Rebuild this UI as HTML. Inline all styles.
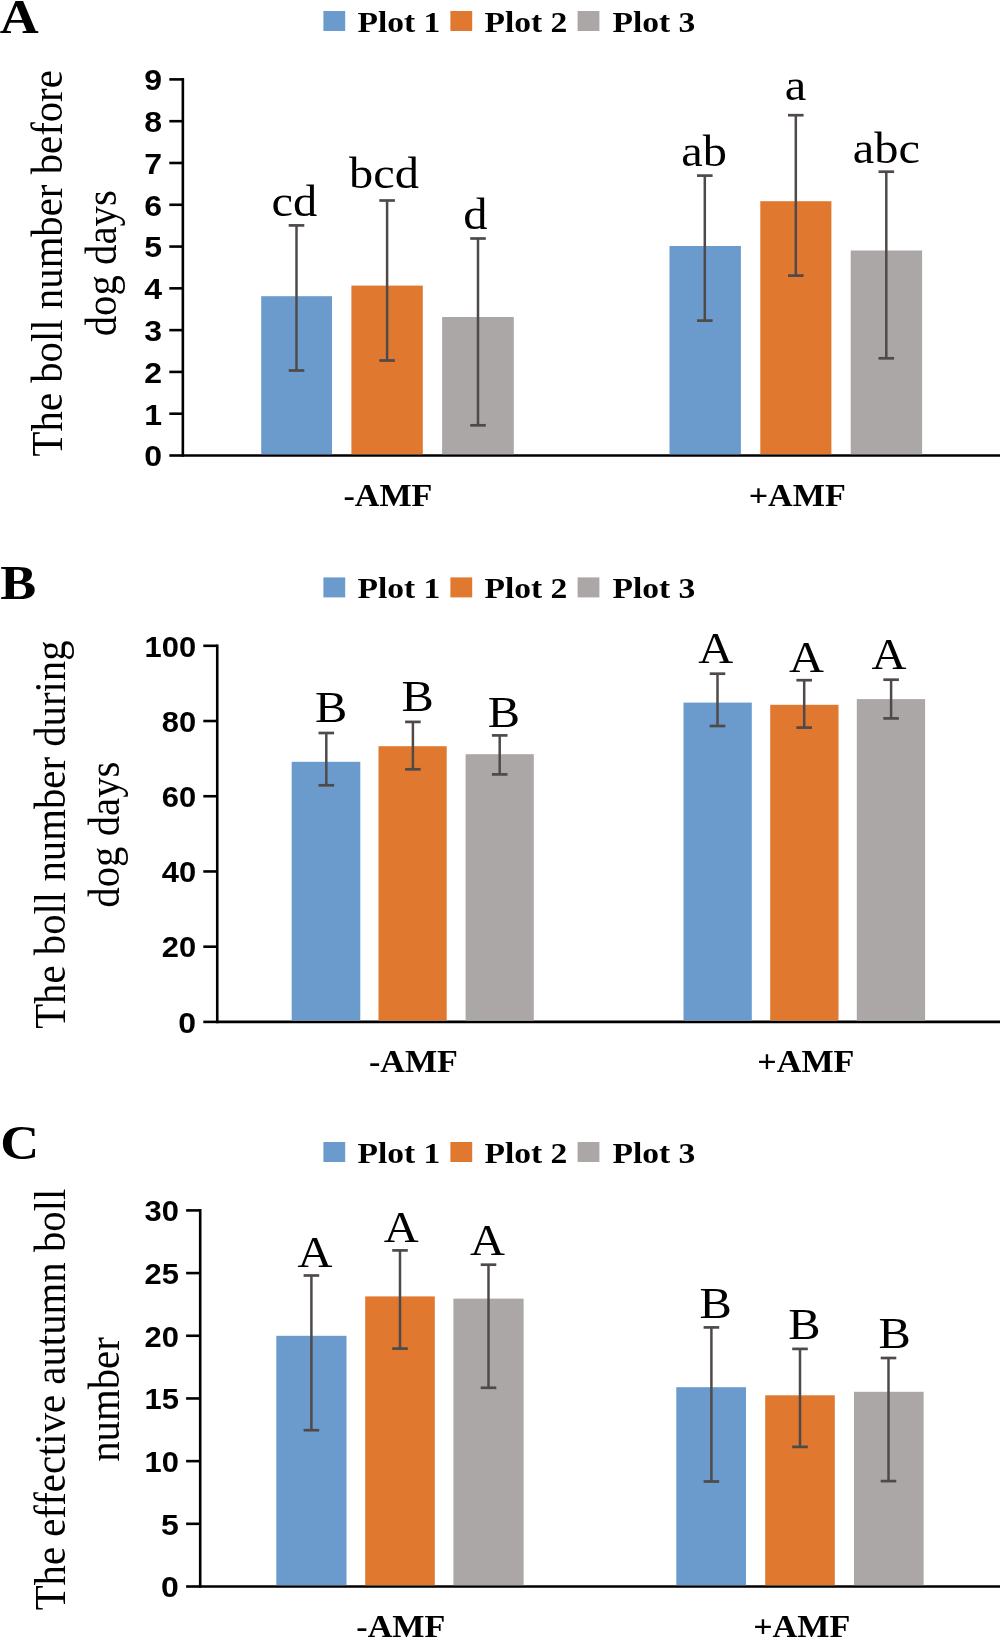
<!DOCTYPE html>
<html><head><meta charset="utf-8"><style>
html,body{margin:0;padding:0;background:#fff;width:1000px;height:1637px;overflow:hidden}
svg{display:block;will-change:transform}
</style></head><body>
<svg width="1000" height="1637" viewBox="0 0 1000 1637">
<rect width="1000" height="1637" fill="#fff"/>
<text transform="translate(-0.30,32.50) scale(1.1,1)" font-family="'Liberation Serif', serif" font-size="49" font-weight="bold" text-anchor="start" fill="#000">A</text>
<rect x="323.40" y="11.00" width="21.80" height="20.00" fill="#6b9bcc"/>
<text transform="translate(357.50,31.80) scale(1.1,1)" font-family="'Liberation Serif', serif" font-size="30.5" font-weight="bold" text-anchor="start" fill="#000">Plot 1</text>
<rect x="450.40" y="11.00" width="21.80" height="20.00" fill="#e07830"/>
<text transform="translate(484.50,31.80) scale(1.1,1)" font-family="'Liberation Serif', serif" font-size="30.5" font-weight="bold" text-anchor="start" fill="#000">Plot 2</text>
<rect x="577.60" y="11.00" width="21.80" height="20.00" fill="#aba7a6"/>
<text transform="translate(612.50,31.80) scale(1.1,1)" font-family="'Liberation Serif', serif" font-size="30.5" font-weight="bold" text-anchor="start" fill="#000">Plot 3</text>
<line x1="169.30" y1="455.50" x2="182.85" y2="455.50" stroke="#000" stroke-width="2.6"/>
<text transform="translate(162.10,466.30) scale(1.12,1)" font-family="'Liberation Sans', sans-serif" font-size="28.6" font-weight="bold" text-anchor="end" fill="#000">0</text>
<line x1="169.30" y1="413.71" x2="182.85" y2="413.71" stroke="#000" stroke-width="2.6"/>
<text transform="translate(162.10,424.51) scale(1.12,1)" font-family="'Liberation Sans', sans-serif" font-size="28.6" font-weight="bold" text-anchor="end" fill="#000">1</text>
<line x1="169.30" y1="371.92" x2="182.85" y2="371.92" stroke="#000" stroke-width="2.6"/>
<text transform="translate(162.10,382.72) scale(1.12,1)" font-family="'Liberation Sans', sans-serif" font-size="28.6" font-weight="bold" text-anchor="end" fill="#000">2</text>
<line x1="169.30" y1="330.13" x2="182.85" y2="330.13" stroke="#000" stroke-width="2.6"/>
<text transform="translate(162.10,340.93) scale(1.12,1)" font-family="'Liberation Sans', sans-serif" font-size="28.6" font-weight="bold" text-anchor="end" fill="#000">3</text>
<line x1="169.30" y1="288.34" x2="182.85" y2="288.34" stroke="#000" stroke-width="2.6"/>
<text transform="translate(162.10,299.14) scale(1.12,1)" font-family="'Liberation Sans', sans-serif" font-size="28.6" font-weight="bold" text-anchor="end" fill="#000">4</text>
<line x1="169.30" y1="246.56" x2="182.85" y2="246.56" stroke="#000" stroke-width="2.6"/>
<text transform="translate(162.10,257.36) scale(1.12,1)" font-family="'Liberation Sans', sans-serif" font-size="28.6" font-weight="bold" text-anchor="end" fill="#000">5</text>
<line x1="169.30" y1="204.77" x2="182.85" y2="204.77" stroke="#000" stroke-width="2.6"/>
<text transform="translate(162.10,215.57) scale(1.12,1)" font-family="'Liberation Sans', sans-serif" font-size="28.6" font-weight="bold" text-anchor="end" fill="#000">6</text>
<line x1="169.30" y1="162.98" x2="182.85" y2="162.98" stroke="#000" stroke-width="2.6"/>
<text transform="translate(162.10,173.78) scale(1.12,1)" font-family="'Liberation Sans', sans-serif" font-size="28.6" font-weight="bold" text-anchor="end" fill="#000">7</text>
<line x1="169.30" y1="121.19" x2="182.85" y2="121.19" stroke="#000" stroke-width="2.6"/>
<text transform="translate(162.10,131.99) scale(1.12,1)" font-family="'Liberation Sans', sans-serif" font-size="28.6" font-weight="bold" text-anchor="end" fill="#000">8</text>
<line x1="169.30" y1="79.40" x2="182.85" y2="79.40" stroke="#000" stroke-width="2.6"/>
<text transform="translate(162.10,90.20) scale(1.12,1)" font-family="'Liberation Sans', sans-serif" font-size="28.6" font-weight="bold" text-anchor="end" fill="#000">9</text>
<line x1="182.85" y1="78.10" x2="182.85" y2="456.80" stroke="#000" stroke-width="2.6"/>
<line x1="182.85" y1="455.50" x2="1000.00" y2="455.50" stroke="#000" stroke-width="2.6"/>
<rect x="261.20" y="296.20" width="70.80" height="158.00" fill="#6b9bcc"/>
<rect x="351.40" y="285.60" width="71.40" height="168.60" fill="#e07830"/>
<rect x="442.10" y="317.00" width="71.70" height="137.20" fill="#aba7a6"/>
<rect x="669.50" y="246.00" width="71.40" height="208.20" fill="#6b9bcc"/>
<rect x="760.30" y="201.20" width="71.10" height="253.00" fill="#e07830"/>
<rect x="850.70" y="250.50" width="71.40" height="203.70" fill="#aba7a6"/>
<line x1="296.50" y1="225.40" x2="296.50" y2="370.50" stroke="#4f4a49" stroke-width="2.5"/>
<line x1="288.70" y1="225.40" x2="304.30" y2="225.40" stroke="#4f4a49" stroke-width="2.7"/>
<line x1="288.70" y1="370.50" x2="304.30" y2="370.50" stroke="#4f4a49" stroke-width="2.7"/>
<text transform="translate(294.40,215.60) scale(1.1,1)" font-family="'Liberation Serif', serif" font-size="44" text-anchor="middle" fill="#000">cd</text>
<line x1="387.10" y1="200.50" x2="387.10" y2="360.50" stroke="#4f4a49" stroke-width="2.5"/>
<line x1="379.30" y1="200.50" x2="394.90" y2="200.50" stroke="#4f4a49" stroke-width="2.7"/>
<line x1="379.30" y1="360.50" x2="394.90" y2="360.50" stroke="#4f4a49" stroke-width="2.7"/>
<text transform="translate(383.90,188.40) scale(1.1,1)" font-family="'Liberation Serif', serif" font-size="44" text-anchor="middle" fill="#000">bcd</text>
<line x1="478.00" y1="238.50" x2="478.00" y2="425.30" stroke="#4f4a49" stroke-width="2.5"/>
<line x1="470.20" y1="238.50" x2="485.80" y2="238.50" stroke="#4f4a49" stroke-width="2.7"/>
<line x1="470.20" y1="425.30" x2="485.80" y2="425.30" stroke="#4f4a49" stroke-width="2.7"/>
<text transform="translate(475.40,228.50) scale(1.1,1)" font-family="'Liberation Serif', serif" font-size="44" text-anchor="middle" fill="#000">d</text>
<line x1="704.80" y1="175.60" x2="704.80" y2="320.60" stroke="#4f4a49" stroke-width="2.5"/>
<line x1="697.00" y1="175.60" x2="712.60" y2="175.60" stroke="#4f4a49" stroke-width="2.7"/>
<line x1="697.00" y1="320.60" x2="712.60" y2="320.60" stroke="#4f4a49" stroke-width="2.7"/>
<text transform="translate(704.10,166.40) scale(1.1,1)" font-family="'Liberation Serif', serif" font-size="44" text-anchor="middle" fill="#000">ab</text>
<line x1="795.80" y1="115.20" x2="795.80" y2="275.60" stroke="#4f4a49" stroke-width="2.5"/>
<line x1="788.00" y1="115.20" x2="803.60" y2="115.20" stroke="#4f4a49" stroke-width="2.7"/>
<line x1="788.00" y1="275.60" x2="803.60" y2="275.60" stroke="#4f4a49" stroke-width="2.7"/>
<text transform="translate(795.50,100.40) scale(1.1,1)" font-family="'Liberation Serif', serif" font-size="44" text-anchor="middle" fill="#000">a</text>
<line x1="886.30" y1="171.70" x2="886.30" y2="358.30" stroke="#4f4a49" stroke-width="2.5"/>
<line x1="878.50" y1="171.70" x2="894.10" y2="171.70" stroke="#4f4a49" stroke-width="2.7"/>
<line x1="878.50" y1="358.30" x2="894.10" y2="358.30" stroke="#4f4a49" stroke-width="2.7"/>
<text transform="translate(886.30,162.70) scale(1.1,1)" font-family="'Liberation Serif', serif" font-size="44" text-anchor="middle" fill="#000">abc</text>
<text transform="translate(387.90,505.80) scale(1.1,1)" font-family="'Liberation Serif', serif" font-size="31" font-weight="bold" text-anchor="middle" fill="#000">-AMF</text>
<text transform="translate(797.20,505.80) scale(1.1,1)" font-family="'Liberation Serif', serif" font-size="31" font-weight="bold" text-anchor="middle" fill="#000">+AMF</text>
<text transform="translate(61.80,263.30) scale(1.1,1) rotate(-90)" font-family="'Liberation Serif', serif" font-size="40.8" text-anchor="middle" fill="#000">The boll number before</text>
<text transform="translate(115.90,263.30) scale(1.1,1) rotate(-90)" font-family="'Liberation Serif', serif" font-size="40.8" text-anchor="middle" fill="#000">dog days</text>
<text transform="translate(0.30,598.50) scale(1.1,1)" font-family="'Liberation Serif', serif" font-size="49" font-weight="bold" text-anchor="start" fill="#000">B</text>
<rect x="323.40" y="577.40" width="21.80" height="20.00" fill="#6b9bcc"/>
<text transform="translate(357.50,598.20) scale(1.1,1)" font-family="'Liberation Serif', serif" font-size="30.5" font-weight="bold" text-anchor="start" fill="#000">Plot 1</text>
<rect x="450.40" y="577.40" width="21.80" height="20.00" fill="#e07830"/>
<text transform="translate(484.50,598.20) scale(1.1,1)" font-family="'Liberation Serif', serif" font-size="30.5" font-weight="bold" text-anchor="start" fill="#000">Plot 2</text>
<rect x="577.60" y="577.40" width="21.80" height="20.00" fill="#aba7a6"/>
<text transform="translate(612.50,598.20) scale(1.1,1)" font-family="'Liberation Serif', serif" font-size="30.5" font-weight="bold" text-anchor="start" fill="#000">Plot 3</text>
<line x1="203.30" y1="1021.90" x2="217.25" y2="1021.90" stroke="#000" stroke-width="2.6"/>
<text transform="translate(196.10,1032.70) scale(1.12,1)" font-family="'Liberation Sans', sans-serif" font-size="28.6" font-weight="bold" text-anchor="end" fill="#000">0</text>
<line x1="203.30" y1="946.68" x2="217.25" y2="946.68" stroke="#000" stroke-width="2.6"/>
<text transform="translate(196.10,957.48) scale(1.08,1)" font-family="'Liberation Sans', sans-serif" font-size="28.6" font-weight="bold" text-anchor="end" fill="#000">20</text>
<line x1="203.30" y1="871.46" x2="217.25" y2="871.46" stroke="#000" stroke-width="2.6"/>
<text transform="translate(196.10,882.26) scale(1.08,1)" font-family="'Liberation Sans', sans-serif" font-size="28.6" font-weight="bold" text-anchor="end" fill="#000">40</text>
<line x1="203.30" y1="796.24" x2="217.25" y2="796.24" stroke="#000" stroke-width="2.6"/>
<text transform="translate(196.10,807.04) scale(1.08,1)" font-family="'Liberation Sans', sans-serif" font-size="28.6" font-weight="bold" text-anchor="end" fill="#000">60</text>
<line x1="203.30" y1="721.02" x2="217.25" y2="721.02" stroke="#000" stroke-width="2.6"/>
<text transform="translate(196.10,731.82) scale(1.08,1)" font-family="'Liberation Sans', sans-serif" font-size="28.6" font-weight="bold" text-anchor="end" fill="#000">80</text>
<line x1="203.30" y1="645.80" x2="217.25" y2="645.80" stroke="#000" stroke-width="2.6"/>
<text transform="translate(196.10,656.60) scale(1.08,1)" font-family="'Liberation Sans', sans-serif" font-size="28.6" font-weight="bold" text-anchor="end" fill="#000">100</text>
<line x1="217.25" y1="644.50" x2="217.25" y2="1023.20" stroke="#000" stroke-width="2.6"/>
<line x1="217.25" y1="1021.90" x2="1000.00" y2="1021.90" stroke="#000" stroke-width="2.6"/>
<rect x="291.70" y="761.80" width="68.60" height="258.80" fill="#6b9bcc"/>
<rect x="378.50" y="746.20" width="68.20" height="274.40" fill="#e07830"/>
<rect x="465.60" y="754.20" width="68.20" height="266.40" fill="#aba7a6"/>
<rect x="683.50" y="702.60" width="68.30" height="318.00" fill="#6b9bcc"/>
<rect x="770.20" y="704.80" width="68.30" height="315.80" fill="#e07830"/>
<rect x="856.80" y="699.10" width="68.30" height="321.50" fill="#aba7a6"/>
<line x1="326.30" y1="733.00" x2="326.30" y2="785.30" stroke="#4f4a49" stroke-width="2.5"/>
<line x1="318.50" y1="733.00" x2="334.10" y2="733.00" stroke="#4f4a49" stroke-width="2.7"/>
<line x1="318.50" y1="785.30" x2="334.10" y2="785.30" stroke="#4f4a49" stroke-width="2.7"/>
<text transform="translate(331.20,721.50) scale(1.1,1)" font-family="'Liberation Serif', serif" font-size="44" text-anchor="middle" fill="#000">B</text>
<line x1="412.90" y1="721.90" x2="412.90" y2="769.30" stroke="#4f4a49" stroke-width="2.5"/>
<line x1="405.10" y1="721.90" x2="420.70" y2="721.90" stroke="#4f4a49" stroke-width="2.7"/>
<line x1="405.10" y1="769.30" x2="420.70" y2="769.30" stroke="#4f4a49" stroke-width="2.7"/>
<text transform="translate(417.55,710.80) scale(1.1,1)" font-family="'Liberation Serif', serif" font-size="44" text-anchor="middle" fill="#000">B</text>
<line x1="499.70" y1="735.40" x2="499.70" y2="774.40" stroke="#4f4a49" stroke-width="2.5"/>
<line x1="491.90" y1="735.40" x2="507.50" y2="735.40" stroke="#4f4a49" stroke-width="2.7"/>
<line x1="491.90" y1="774.40" x2="507.50" y2="774.40" stroke="#4f4a49" stroke-width="2.7"/>
<text transform="translate(504.00,726.70) scale(1.1,1)" font-family="'Liberation Serif', serif" font-size="44" text-anchor="middle" fill="#000">B</text>
<line x1="717.50" y1="673.70" x2="717.50" y2="726.00" stroke="#4f4a49" stroke-width="2.5"/>
<line x1="709.70" y1="673.70" x2="725.30" y2="673.70" stroke="#4f4a49" stroke-width="2.7"/>
<line x1="709.70" y1="726.00" x2="725.30" y2="726.00" stroke="#4f4a49" stroke-width="2.7"/>
<text transform="translate(715.75,663.20) scale(1.1,1)" font-family="'Liberation Serif', serif" font-size="44" text-anchor="middle" fill="#000">A</text>
<line x1="804.20" y1="680.20" x2="804.20" y2="727.60" stroke="#4f4a49" stroke-width="2.5"/>
<line x1="796.40" y1="680.20" x2="812.00" y2="680.20" stroke="#4f4a49" stroke-width="2.7"/>
<line x1="796.40" y1="727.60" x2="812.00" y2="727.60" stroke="#4f4a49" stroke-width="2.7"/>
<text transform="translate(806.45,672.10) scale(1.1,1)" font-family="'Liberation Serif', serif" font-size="44" text-anchor="middle" fill="#000">A</text>
<line x1="891.10" y1="679.70" x2="891.10" y2="718.40" stroke="#4f4a49" stroke-width="2.5"/>
<line x1="883.30" y1="679.70" x2="898.90" y2="679.70" stroke="#4f4a49" stroke-width="2.7"/>
<line x1="883.30" y1="718.40" x2="898.90" y2="718.40" stroke="#4f4a49" stroke-width="2.7"/>
<text transform="translate(889.10,668.60) scale(1.1,1)" font-family="'Liberation Serif', serif" font-size="44" text-anchor="middle" fill="#000">A</text>
<text transform="translate(413.40,1072.20) scale(1.1,1)" font-family="'Liberation Serif', serif" font-size="31" font-weight="bold" text-anchor="middle" fill="#000">-AMF</text>
<text transform="translate(805.90,1072.20) scale(1.1,1)" font-family="'Liberation Serif', serif" font-size="31" font-weight="bold" text-anchor="middle" fill="#000">+AMF</text>
<text transform="translate(64.80,834.60) scale(1.1,1) rotate(-90)" font-family="'Liberation Serif', serif" font-size="40.8" text-anchor="middle" fill="#000">The boll number during</text>
<text transform="translate(118.60,834.60) scale(1.1,1) rotate(-90)" font-family="'Liberation Serif', serif" font-size="40.8" text-anchor="middle" fill="#000">dog days</text>
<text transform="translate(0.30,1159.00) scale(1.1,1)" font-family="'Liberation Serif', serif" font-size="49" font-weight="bold" text-anchor="start" fill="#000">C</text>
<rect x="323.40" y="1142.00" width="21.80" height="20.00" fill="#6b9bcc"/>
<text transform="translate(357.50,1162.80) scale(1.1,1)" font-family="'Liberation Serif', serif" font-size="30.5" font-weight="bold" text-anchor="start" fill="#000">Plot 1</text>
<rect x="450.40" y="1142.00" width="21.80" height="20.00" fill="#e07830"/>
<text transform="translate(484.50,1162.80) scale(1.1,1)" font-family="'Liberation Serif', serif" font-size="30.5" font-weight="bold" text-anchor="start" fill="#000">Plot 2</text>
<rect x="577.60" y="1142.00" width="21.80" height="20.00" fill="#aba7a6"/>
<text transform="translate(612.50,1162.80) scale(1.1,1)" font-family="'Liberation Serif', serif" font-size="30.5" font-weight="bold" text-anchor="start" fill="#000">Plot 3</text>
<line x1="186.10" y1="1586.50" x2="200.20" y2="1586.50" stroke="#000" stroke-width="2.6"/>
<text transform="translate(178.90,1597.30) scale(1.12,1)" font-family="'Liberation Sans', sans-serif" font-size="28.6" font-weight="bold" text-anchor="end" fill="#000">0</text>
<line x1="186.10" y1="1523.82" x2="200.20" y2="1523.82" stroke="#000" stroke-width="2.6"/>
<text transform="translate(178.90,1534.62) scale(1.12,1)" font-family="'Liberation Sans', sans-serif" font-size="28.6" font-weight="bold" text-anchor="end" fill="#000">5</text>
<line x1="186.10" y1="1461.13" x2="200.20" y2="1461.13" stroke="#000" stroke-width="2.6"/>
<text transform="translate(178.90,1471.93) scale(1.08,1)" font-family="'Liberation Sans', sans-serif" font-size="28.6" font-weight="bold" text-anchor="end" fill="#000">10</text>
<line x1="186.10" y1="1398.45" x2="200.20" y2="1398.45" stroke="#000" stroke-width="2.6"/>
<text transform="translate(178.90,1409.25) scale(1.08,1)" font-family="'Liberation Sans', sans-serif" font-size="28.6" font-weight="bold" text-anchor="end" fill="#000">15</text>
<line x1="186.10" y1="1335.77" x2="200.20" y2="1335.77" stroke="#000" stroke-width="2.6"/>
<text transform="translate(178.90,1346.57) scale(1.08,1)" font-family="'Liberation Sans', sans-serif" font-size="28.6" font-weight="bold" text-anchor="end" fill="#000">20</text>
<line x1="186.10" y1="1273.08" x2="200.20" y2="1273.08" stroke="#000" stroke-width="2.6"/>
<text transform="translate(178.90,1283.88) scale(1.08,1)" font-family="'Liberation Sans', sans-serif" font-size="28.6" font-weight="bold" text-anchor="end" fill="#000">25</text>
<line x1="186.10" y1="1210.40" x2="200.20" y2="1210.40" stroke="#000" stroke-width="2.6"/>
<text transform="translate(178.90,1221.20) scale(1.08,1)" font-family="'Liberation Sans', sans-serif" font-size="28.6" font-weight="bold" text-anchor="end" fill="#000">30</text>
<line x1="200.20" y1="1209.10" x2="200.20" y2="1587.80" stroke="#000" stroke-width="2.6"/>
<line x1="200.20" y1="1586.50" x2="1000.00" y2="1586.50" stroke="#000" stroke-width="2.6"/>
<rect x="276.30" y="1335.80" width="70.20" height="249.40" fill="#6b9bcc"/>
<rect x="365.20" y="1296.40" width="69.60" height="288.80" fill="#e07830"/>
<rect x="453.40" y="1298.60" width="70.20" height="286.60" fill="#aba7a6"/>
<rect x="676.30" y="1387.20" width="69.70" height="198.00" fill="#6b9bcc"/>
<rect x="765.20" y="1395.30" width="69.60" height="189.90" fill="#e07830"/>
<rect x="854.00" y="1391.80" width="69.60" height="193.40" fill="#aba7a6"/>
<line x1="311.40" y1="1275.50" x2="311.40" y2="1430.20" stroke="#4f4a49" stroke-width="2.5"/>
<line x1="303.60" y1="1275.50" x2="319.20" y2="1275.50" stroke="#4f4a49" stroke-width="2.7"/>
<line x1="303.60" y1="1430.20" x2="319.20" y2="1430.20" stroke="#4f4a49" stroke-width="2.7"/>
<text transform="translate(314.95,1267.20) scale(1.1,1)" font-family="'Liberation Serif', serif" font-size="44" text-anchor="middle" fill="#000">A</text>
<line x1="400.00" y1="1250.40" x2="400.00" y2="1348.60" stroke="#4f4a49" stroke-width="2.5"/>
<line x1="392.20" y1="1250.40" x2="407.80" y2="1250.40" stroke="#4f4a49" stroke-width="2.7"/>
<line x1="392.20" y1="1348.60" x2="407.80" y2="1348.60" stroke="#4f4a49" stroke-width="2.7"/>
<text transform="translate(401.20,1241.60) scale(1.1,1)" font-family="'Liberation Serif', serif" font-size="44" text-anchor="middle" fill="#000">A</text>
<line x1="488.50" y1="1264.70" x2="488.50" y2="1387.80" stroke="#4f4a49" stroke-width="2.5"/>
<line x1="480.70" y1="1264.70" x2="496.30" y2="1264.70" stroke="#4f4a49" stroke-width="2.7"/>
<line x1="480.70" y1="1387.80" x2="496.30" y2="1387.80" stroke="#4f4a49" stroke-width="2.7"/>
<text transform="translate(487.60,1255.40) scale(1.1,1)" font-family="'Liberation Serif', serif" font-size="44" text-anchor="middle" fill="#000">A</text>
<line x1="711.40" y1="1327.40" x2="711.40" y2="1481.50" stroke="#4f4a49" stroke-width="2.5"/>
<line x1="703.60" y1="1327.40" x2="719.20" y2="1327.40" stroke="#4f4a49" stroke-width="2.7"/>
<line x1="703.60" y1="1481.50" x2="719.20" y2="1481.50" stroke="#4f4a49" stroke-width="2.7"/>
<text transform="translate(715.60,1318.30) scale(1.1,1)" font-family="'Liberation Serif', serif" font-size="44" text-anchor="middle" fill="#000">B</text>
<line x1="800.00" y1="1348.90" x2="800.00" y2="1446.90" stroke="#4f4a49" stroke-width="2.5"/>
<line x1="792.20" y1="1348.90" x2="807.80" y2="1348.90" stroke="#4f4a49" stroke-width="2.7"/>
<line x1="792.20" y1="1446.90" x2="807.80" y2="1446.90" stroke="#4f4a49" stroke-width="2.7"/>
<text transform="translate(804.30,1339.40) scale(1.1,1)" font-family="'Liberation Serif', serif" font-size="44" text-anchor="middle" fill="#000">B</text>
<line x1="888.50" y1="1358.00" x2="888.50" y2="1481.10" stroke="#4f4a49" stroke-width="2.5"/>
<line x1="880.70" y1="1358.00" x2="896.30" y2="1358.00" stroke="#4f4a49" stroke-width="2.7"/>
<line x1="880.70" y1="1481.10" x2="896.30" y2="1481.10" stroke="#4f4a49" stroke-width="2.7"/>
<text transform="translate(894.60,1347.50) scale(1.1,1)" font-family="'Liberation Serif', serif" font-size="44" text-anchor="middle" fill="#000">B</text>
<text transform="translate(400.80,1636.80) scale(1.1,1)" font-family="'Liberation Serif', serif" font-size="31" font-weight="bold" text-anchor="middle" fill="#000">-AMF</text>
<text transform="translate(801.70,1636.80) scale(1.1,1)" font-family="'Liberation Serif', serif" font-size="31" font-weight="bold" text-anchor="middle" fill="#000">+AMF</text>
<text transform="translate(65.00,1399.50) scale(1.1,1) rotate(-90)" font-family="'Liberation Serif', serif" font-size="40.8" text-anchor="middle" fill="#000">The effective autumn boll</text>
<text transform="translate(119.00,1399.50) scale(1.1,1) rotate(-90)" font-family="'Liberation Serif', serif" font-size="40.8" text-anchor="middle" fill="#000">number</text>
</svg>
</body></html>
